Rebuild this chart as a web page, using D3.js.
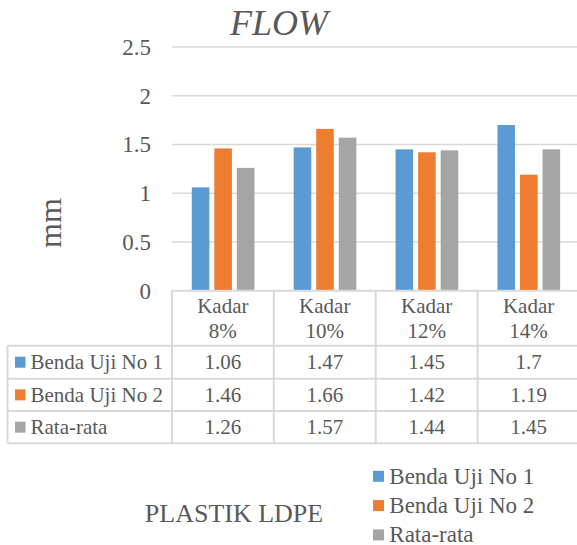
<!DOCTYPE html>
<html><head><meta charset="utf-8">
<script src="https://cdn.jsdelivr.net/npm/d3@7"></script>
</head><body style="margin:0">
<svg id="chart" width="577" height="545"></svg>
<script>
const categories = ["Kadar 8%", "Kadar 10%", "Kadar 12%", "Kadar 14%"];
const categoryLines = [["Kadar","8%"],["Kadar","10%"],["Kadar","12%"],["Kadar","14%"]];
const seriesNames = ["Benda Uji No 1", "Benda Uji No 2", "Rata-rata"];
const benda1 = [1.06, 1.47, 1.45, 1.7];
const benda2 = [1.46, 1.66, 1.42, 1.19];
const rata = [1.26, 1.57, 1.44, 1.45];
const tableLabels = [["1.06","1.47","1.45","1.7"],["1.46","1.66","1.42","1.19"],["1.26","1.57","1.44","1.45"]];
const yTicks = [0, 0.5, 1, 1.5, 2, 2.5];
const yTickLabels = ["0", "0.5", "1", "1.5", "2", "2.5"];
const colors = ["#5B9BD5", "#ED7D31", "#A5A5A5"];
const seriesValues = [benda1, benda2, rata];

const svg = d3.select("#chart");
const txtColor = "#595959";
const grid = "#D9D9D9";
const x = d3.scaleBand().domain(categories).range([171.9, 579.5]);
const y = d3.scaleLinear().domain([0, 2.5]).range([290.7, 47]);
const bw = x.bandwidth();
const xs = d3.scaleBand().domain(seriesNames).range([bw*0.195, bw*0.81]).paddingInner(0.22);

const txt = sel => sel.attr("font-family", "Liberation Serif").attr("fill", txtColor);

svg.append("g").selectAll("line").data(yTicks.filter(d=>d>0)).join("line")
  .attr("x1", x.range()[0]).attr("x2", 577)
  .attr("y1", d=>y(d)).attr("y2", d=>y(d))
  .attr("stroke", grid).attr("stroke-width", 1.5);

svg.append("g").selectAll("text").data(yTicks).join("text").call(txt)
  .attr("x", 151).attr("y", d=>y(d)+8).attr("text-anchor","end")
  .attr("font-size", 23).text((d,i)=>yTickLabels[i]);

seriesValues.forEach((vals, si) => {
  svg.append("g").selectAll("rect").data(vals).join("rect")
    .attr("x", (d,i)=>x(categories[i]) + xs(seriesNames[si]))
    .attr("width", xs.bandwidth())
    .attr("y", d=>y(d)).attr("height", d=>y(0)-y(d))
    .attr("fill", colors[si]);
});

svg.append("text").call(txt).attr("x", 279).attr("y", 35).attr("text-anchor","middle")
  .attr("font-size", 36).attr("font-style","italic").text("FLOW");

svg.append("text").call(txt).attr("transform","translate(60.5,223) rotate(-90)")
  .attr("text-anchor","middle").attr("font-size", 32).text("mm");

const rowY = [y(0), 345.7, 378.7, 411, 443.3];
const tbl = svg.append("g");
tbl.append("line").attr("x1", x.range()[0]).attr("x2", 577).attr("y1", rowY[0]).attr("y2", rowY[0])
  .attr("stroke", grid).attr("stroke-width", 2);
rowY.slice(1).forEach(yy => tbl.append("line").attr("x1", 7.5).attr("x2", 577)
  .attr("y1", yy).attr("y2", yy).attr("stroke", grid).attr("stroke-width", 2));
categories.forEach(c => tbl.append("line").attr("x1", x(c)).attr("x2", x(c))
  .attr("y1", rowY[0]).attr("y2", rowY[4]).attr("stroke", grid).attr("stroke-width", 2));
tbl.append("line").attr("x1", 7.5).attr("x2", 7.5).attr("y1", rowY[1]).attr("y2", rowY[4])
  .attr("stroke", grid).attr("stroke-width", 2);
categories.forEach((c, i) => {
  tbl.append("text").call(txt).attr("text-anchor","middle").attr("font-size", 21)
    .attr("x", x(c)+bw/2).attr("y", 313).text(categoryLines[i][0]);
  tbl.append("text").call(txt).attr("text-anchor","middle").attr("font-size", 21)
    .attr("x", x(c)+bw/2).attr("y", 338).text(categoryLines[i][1]);
});
const baseY = [369.3, 402, 434.3];
seriesNames.forEach((s, si) => {
  tbl.append("rect").attr("x", 15).attr("y", (rowY[si+1]+rowY[si+2])/2 - 5.5)
    .attr("width", 10.5).attr("height", 11).attr("fill", colors[si]);
  tbl.append("text").call(txt).attr("x", 30.5).attr("y", baseY[si]).attr("font-size", 21).text(s);
  categories.forEach((c, i) => tbl.append("text").call(txt).attr("x", x(c)+bw/2).attr("y", baseY[si])
    .attr("text-anchor","middle").attr("font-size", 21).text(tableLabels[si][i]));
});

svg.append("text").call(txt).attr("x", 234).attr("y", 521.7).attr("text-anchor","middle")
  .attr("font-size", 26).text("PLASTIK LDPE");

seriesNames.forEach((s, si) => {
  const cy = 476.3 + si*29.3;
  svg.append("rect").attr("x", 373).attr("y", cy-5.5).attr("width", 11).attr("height", 11).attr("fill", colors[si]);
  svg.append("text").call(txt).attr("x", 389.3).attr("y", cy+7.5).attr("font-size", 23).text(s);
});
</script>
</body></html>
